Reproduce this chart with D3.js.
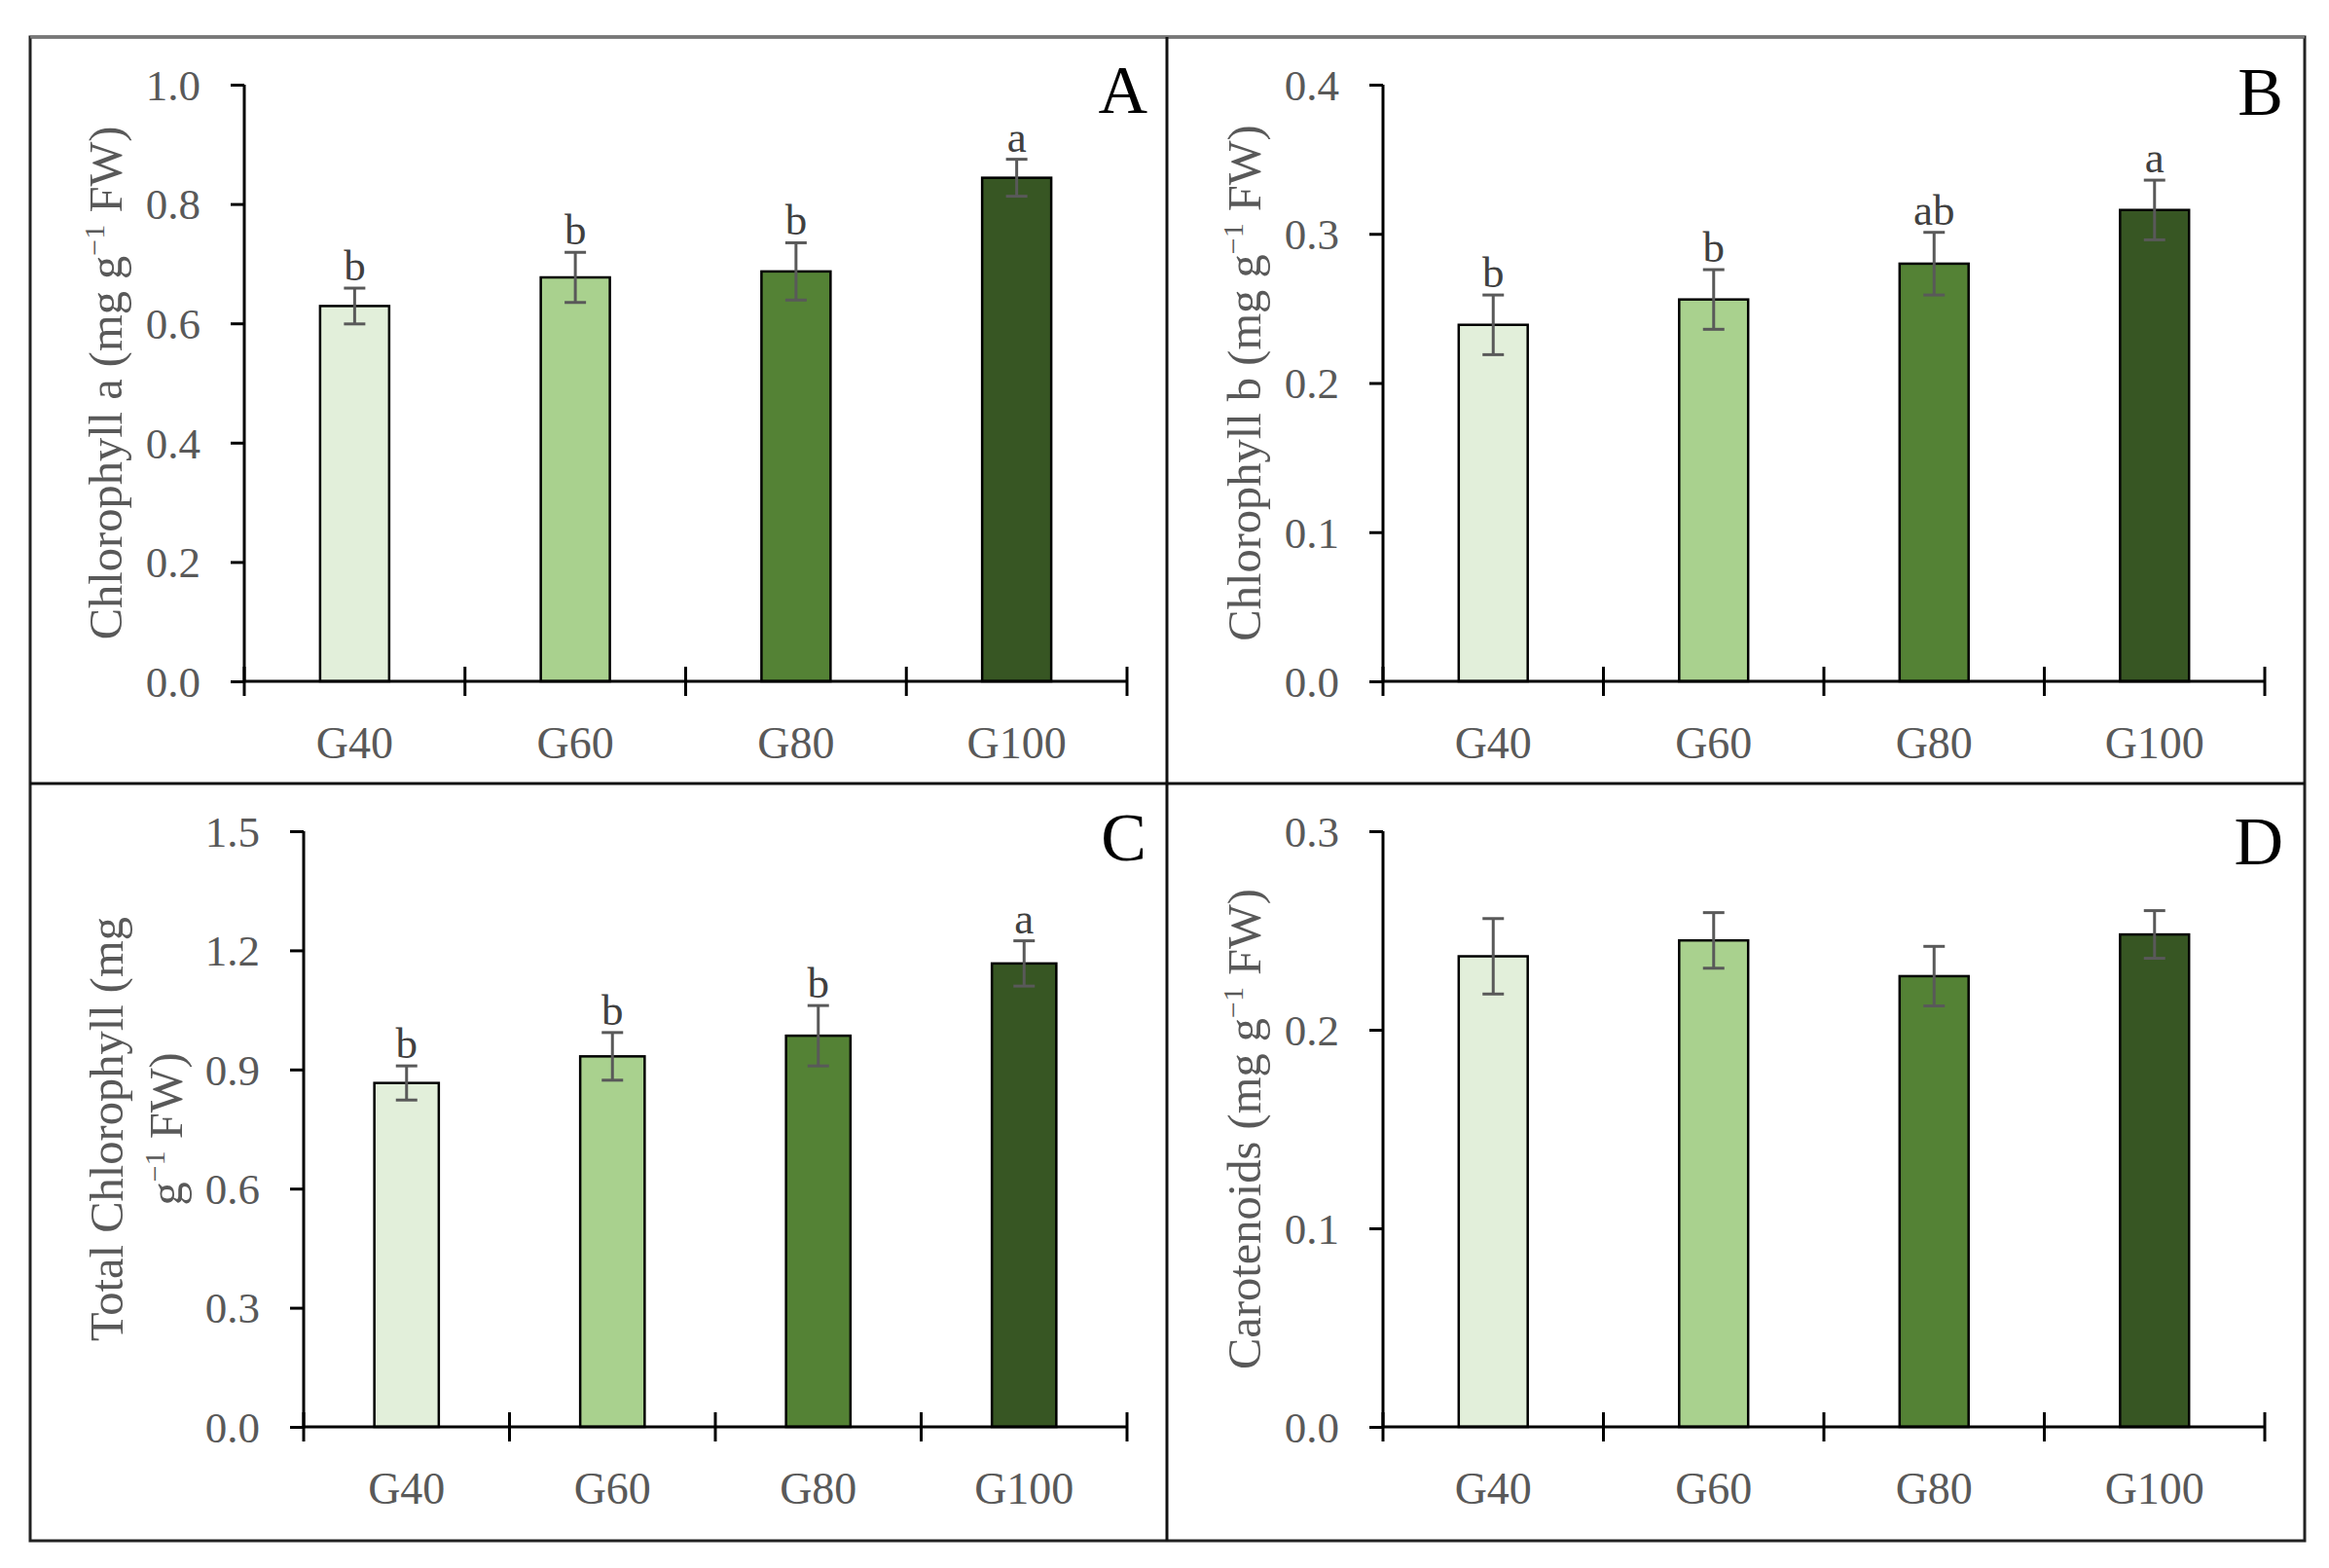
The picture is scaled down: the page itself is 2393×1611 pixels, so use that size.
<!DOCTYPE html>
<html>
<head>
<meta charset="utf-8">
<title>Chlorophyll and carotenoids</title>
<script src="https://cdn.jsdelivr.net/npm/d3@7"></script>
<style>
  body { margin: 0; background: #fff; }
  svg text { font-family: "Liberation Serif", "DejaVu Serif", serif; }
</style>
</head>
<body>
<script>
// ---- data ----
var categories = ["G40", "G60", "G80", "G100"];
var barColors = ["#e2efda", "#a9d18e", "#548235", "#375623"];

var chlA = [0.629, 0.677, 0.687, 0.844];
var chlAErr = [0.030, 0.042, 0.048, 0.031];
var chlALetters = ["b", "b", "b", "a"];

var chlB = [0.239, 0.256, 0.280, 0.316];
var chlBErr = [0.020, 0.020, 0.021, 0.020];
var chlBLetters = ["b", "b", "ab", "a"];

var totalChl = [0.866, 0.933, 0.985, 1.167];
var totalChlErr = [0.043, 0.060, 0.076, 0.057];
var totalChlLetters = ["b", "b", "b", "a"];

var carot = [0.237, 0.245, 0.227, 0.248];
var carotErr = [0.019, 0.014, 0.015, 0.012];

var ticksA = [0, 0.2, 0.4, 0.6, 0.8, 1.0];
var ticksB = [0, 0.1, 0.2, 0.3, 0.4];
var ticksC = [0, 0.3, 0.6, 0.9, 1.2, 1.5];
var ticksD = [0, 0.1, 0.2, 0.3];

var W = 2393, H = 1611;
var grey = "#595959";

var svg = d3.select("body").append("svg")
    .attr("width", W)
    .attr("height", H);

// outer frame + dividers
svg.append("rect")
    .attr("x", 31).attr("y", 38)
    .attr("width", 2368 - 31).attr("height", 1583 - 38)
    .attr("fill", "none").attr("stroke", "#222").attr("stroke-width", 3);
svg.append("line").attr("x1", 31).attr("x2", 2368).attr("y1", 38).attr("y2", 38)
    .attr("stroke", "#777").attr("stroke-width", 3);
svg.append("line").attr("x1", 1199).attr("x2", 1199).attr("y1", 38).attr("y2", 1583)
    .attr("stroke", "#111").attr("stroke-width", 3);
svg.append("line").attr("x1", 31).attr("x2", 2368).attr("y1", 805).attr("y2", 805)
    .attr("stroke", "#111").attr("stroke-width", 3);

var panels = [
    {left: 251, right: 1158, top: 87, bottom: 700, max: 1.0, ticks: ticksA,
     values: chlA, errs: chlAErr, letters: chlALetters, tag: "A", tagX: 1179, tagY: 116,
     title: [["Chlorophyll a (mg g", "\u22121", " FW)"]], titleX: [125]},
    {left: 1421, right: 2327, top: 87, bottom: 700, max: 0.4, ticks: ticksB,
     values: chlB, errs: chlBErr, letters: chlBLetters, tag: "B", tagX: 2346, tagY: 118,
     title: [["Chlorophyll b (mg g", "\u22121", " FW)"]], titleX: [1295]},
    {left: 312, right: 1158, top: 854, bottom: 1466, max: 1.5, ticks: ticksC,
     values: totalChl, errs: totalChlErr, letters: totalChlLetters, tag: "C", tagX: 1178, tagY: 884,
     title: [["Total Chlorophyll (mg"], ["g", "\u22121", " FW)"]], titleX: [126, 187]},
    {left: 1421, right: 2327, top: 854, bottom: 1466, max: 0.3, ticks: ticksD,
     values: carot, errs: carotErr, letters: null, tag: "D", tagX: 2346, tagY: 888,
     title: [["Carotenoids (mg g", "\u22121", " FW)"]], titleX: [1295]}
];

panels.forEach(function(p) {
    var g = svg.append("g");

    var x = d3.scaleBand()
        .domain(categories)
        .range([p.left, p.right])
        .paddingInner(0).paddingOuter(0);
    var y = d3.scaleLinear()
        .domain([0, p.max])
        .range([p.bottom, p.top]);

    var bw = x.bandwidth() * 0.313;

    // bars
    g.selectAll("rect.bar")
        .data(p.values)
        .enter()
        .append("rect")
        .attr("class", "bar")
        .attr("x", function(d, i) { return x(categories[i]) + x.bandwidth() / 2 - bw / 2; })
        .attr("y", function(d) { return y(d); })
        .attr("width", bw)
        .attr("height", function(d) { return y(0) - y(d); })
        .attr("fill", function(d, i) { return barColors[i]; })
        .attr("stroke", "#000")
        .attr("stroke-width", 2.5);

    // y axis
    var yAxis = g.append("g")
        .attr("transform", "translate(" + p.left + ",0)")
        .call(d3.axisLeft(y).tickValues(p.ticks).tickSize(14).tickPadding(31)
            .tickFormat(d3.format(".1f")));
    yAxis.select(".domain").attr("stroke", "#000").attr("stroke-width", 3)
        .attr("d", "M0," + p.top + "V" + p.bottom);
    yAxis.selectAll(".tick line").attr("stroke", "#000").attr("stroke-width", 3);
    yAxis.selectAll(".tick text")
        .attr("fill", grey)
        .attr("font-size", "45px")
        .attr("font-family", "Liberation Serif")
        .attr("dy", "0.34em");

    // x axis line with ticks between categories
    g.append("line")
        .attr("x1", p.left).attr("x2", p.right)
        .attr("y1", y(0)).attr("y2", y(0))
        .attr("stroke", "#000").attr("stroke-width", 3);
    var bounds = categories.map(function(c) { return x(c); }).concat([p.right]);
    g.selectAll("line.xtick")
        .data(bounds)
        .enter()
        .append("line")
        .attr("class", "xtick")
        .attr("x1", function(d) { return d; }).attr("x2", function(d) { return d; })
        .attr("y1", y(0) - 15).attr("y2", y(0) + 15)
        .attr("stroke", "#000").attr("stroke-width", 3);

    // category labels
    g.selectAll("text.cat")
        .data(categories)
        .enter()
        .append("text")
        .attr("class", "cat")
        .text(function(d) { return d; })
        .attr("x", function(d) { return x(d) + x.bandwidth() / 2; })
        .attr("y", y(0) + 79)
        .attr("text-anchor", "middle")
        .attr("font-size", "46px")
        .attr("fill", grey);

    // error bars
    var cx = function(i) { return x(categories[i]) + x.bandwidth() / 2; };
    var eg = g.append("g").attr("stroke", grey).attr("stroke-width", 3);
    p.values.forEach(function(v, i) {
        var hi = y(v + p.errs[i]), lo = y(v - p.errs[i]);
        eg.append("line").attr("x1", cx(i)).attr("x2", cx(i)).attr("y1", hi).attr("y2", lo);
        eg.append("line").attr("x1", cx(i) - 11).attr("x2", cx(i) + 11).attr("y1", hi).attr("y2", hi);
        eg.append("line").attr("x1", cx(i) - 11).attr("x2", cx(i) + 11).attr("y1", lo).attr("y2", lo);
    });

    // significance letters
    if (p.letters) {
        g.selectAll("text.sig")
            .data(p.letters)
            .enter()
            .append("text")
            .attr("class", "sig")
            .text(function(d) { return d; })
            .attr("x", function(d, i) { return cx(i); })
            .attr("y", function(d, i) { return y(p.values[i] + p.errs[i]) - 8; })
            .attr("text-anchor", "middle")
            .attr("font-size", "45px")
            .attr("fill", "#404040");
    }

    // panel tag
    g.append("text")
        .text(p.tag)
        .attr("x", p.tagX)
        .attr("y", p.tagY)
        .attr("text-anchor", "end")
        .attr("font-size", "70px")
        .attr("fill", "#000");

    // y axis title (rotated), one or two lines
    var midY = (p.top + p.bottom) / 2;
    p.title.forEach(function(parts, li) {
        var t = g.append("text")
            .attr("transform", "translate(" + p.titleX[li] + "," + midY + ") rotate(-90)")
            .attr("text-anchor", "middle")
            .attr("font-size", "48.5px")
            .attr("fill", grey);
        parts.forEach(function(s, k) {
            var ts = t.append("tspan").text(s);
            if (k === 1) ts.attr("font-size", "30px").attr("dy", "-18");
            if (k === 2) ts.attr("dy", "18");
        });
    });
});
</script>
</body>
</html>
